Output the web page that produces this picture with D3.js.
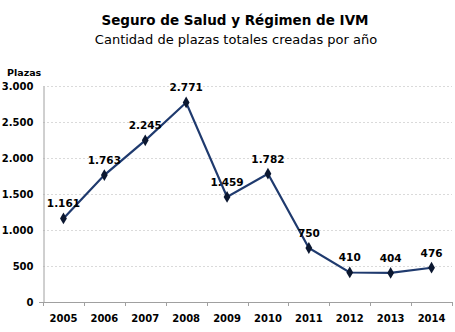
<!DOCTYPE html>
<html><head><meta charset="utf-8">
<script src="https://cdn.jsdelivr.net/npm/d3@7"></script>
<style>body{margin:0;background:#fff}</style>
</head><body>
<svg id="c" width="455" height="332"></svg>
<script>
const years = ["2005","2006","2007","2008","2009","2010","2011","2012","2013","2014"];
const plazas = [1161,1763,2245,2771,1459,1782,750,410,404,476];
const yTicks = [0,500,1000,1500,2000,2500,3000];
const title = "Seguro de Salud y Régimen de IVM";
const subtitle = "Cantidad de plazas totales creadas por año";
const yAxisTitle = "Plazas";

const svg = d3.select("#c");
const m = {left:43, right:3, top:86, bottom:30};
const W = 455, H = 332;
const x = d3.scaleBand().domain(years).range([m.left, W - m.right]);
const y = d3.scaleLinear().domain([0,3000]).range([H - m.bottom, m.top]);
const fmt = v => d3.format(",")(v).replace(/,/g, ".");
const font = "DejaVu Sans, Verdana, sans-serif";

svg.append("text").attr("x",235).attr("y",25).attr("text-anchor","middle")
  .attr("font-family",font).attr("font-weight","bold").attr("font-size",13.5).attr("fill","#000").text(title);
svg.append("text").attr("x",236).attr("y",44).attr("text-anchor","middle")
  .attr("font-family",font).attr("font-size",13).attr("fill","#000").text(subtitle);
svg.append("text").attr("x",7).attr("y",76)
  .attr("font-family",font).attr("font-weight","bold").attr("font-size",9.5).attr("fill","#000").text(yAxisTitle);

// gridlines
svg.append("g").selectAll("line").data(yTicks.filter(d=>d>0)).join("line")
  .attr("x1",m.left).attr("x2",W-m.right).attr("y1",d=>y(d)+0.5).attr("y2",d=>y(d)+0.5)
  .attr("stroke","#dadada").attr("stroke-dasharray","2,2").attr("stroke-width",1);

// y axis
const ya = svg.append("g").attr("transform",`translate(${m.left+0.5},0)`)
  .call(d3.axisLeft(y).tickValues(yTicks).tickFormat(fmt).tickSize(0).tickPadding(10));
ya.select(".domain").attr("stroke","#a0a0a0");
ya.selectAll("text").attr("font-family",font).attr("font-weight","bold").attr("font-size",10).attr("fill","#000");

// x axis
const xa = svg.append("g").attr("transform",`translate(0,${H-m.bottom+0.5})`)
  .call(d3.axisBottom(x).tickSize(0).tickPadding(12));
xa.select(".domain").remove();
xa.selectAll("text").attr("font-family",font).attr("font-weight","bold").attr("font-size",10).attr("fill","#000");
svg.append("line").attr("x1",m.left-4).attr("x2",W-m.right).attr("y1",H-m.bottom+0.5).attr("y2",H-m.bottom+0.5).attr("stroke","#a0a0a0");
svg.append("g").selectAll("line").data(years.concat(["end"])).join("line")
  .attr("x1",(d,i)=>Math.round(m.left + i*x.bandwidth())+0.5)
  .attr("x2",(d,i)=>Math.round(m.left + i*x.bandwidth())+0.5)
  .attr("y1",H-m.bottom).attr("y2",H-m.bottom+4).attr("stroke","#a0a0a0");

const cx = d => x(d) + x.bandwidth()/2;
const line = d3.line().x((d,i)=>cx(years[i])).y(d=>y(d));
svg.append("path").datum(plazas).attr("d",line).attr("fill","none")
  .attr("stroke","#1f3a6e").attr("stroke-width",2.2).attr("stroke-linejoin","miter");

svg.append("g").selectAll("path").data(plazas).join("path")
  .attr("d",d3.symbol(d3.symbolDiamond,40)())
  .attr("transform",(d,i)=>`translate(${cx(years[i])},${y(d)})`)
  .attr("fill","#0b1730");

svg.append("g").selectAll("text").data(plazas).join("text")
  .attr("x",(d,i)=>cx(years[i])).attr("y",d=>y(d)-11)
  .attr("text-anchor","middle").attr("font-family",font).attr("font-weight","bold")
  .attr("font-size",10.5).attr("fill","#000").text(fmt);
</script>
</body></html>
